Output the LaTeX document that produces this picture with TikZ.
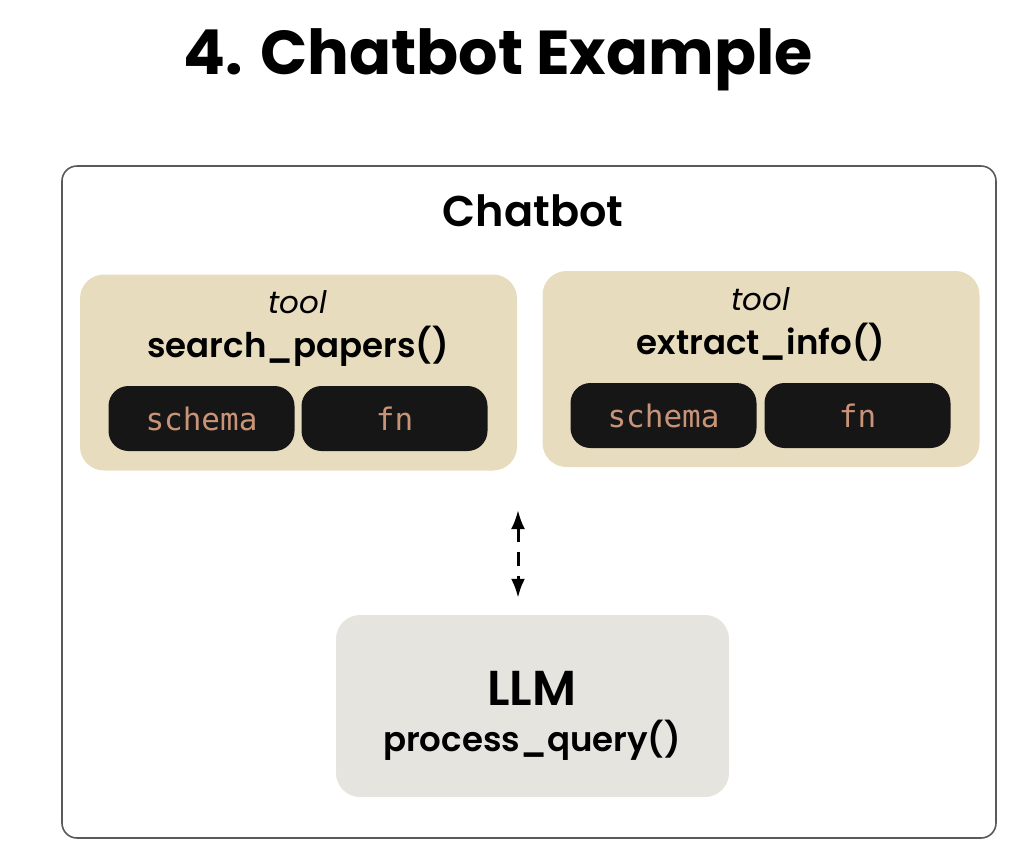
\documentclass[tikz,border=0pt]{standalone}
\usepackage{fontspec}
\setmainfont{Poppins}[BoldFont={Poppins SemiBold}]
\newfontfamily\titlefont{Poppins Bold}
\setmonofont{DejaVu Sans Mono}
\usepackage{tikz}
\usetikzlibrary{arrows.meta, positioning}
\definecolor{ctan}{HTML}{E8DCBE}
\definecolor{cpill}{HTML}{161616}
\definecolor{cpilltext}{HTML}{C99378}
\definecolor{cllm}{HTML}{E6E4DF}
\definecolor{cframe}{HTML}{5A5A5A}

\tikzset{
  toolbox/.style={fill=ctan, rounded corners=24pt, minimum width=437pt, minimum height=196pt, inner sep=0pt},
  pill/.style={fill=cpill, rounded corners=20pt, minimum width=186pt, minimum height=65pt, inner sep=0pt,
    font=\ttfamily\fontsize{31}{36}\selectfont, text=cpilltext},
  toollabel/.style={font=\itshape\fontsize{31}{36}\selectfont},
  toolname/.style={font=\bfseries\fontsize{34}{40}\selectfont},
}

\begin{document}
\begin{tikzpicture}[x=1pt, y=-1pt]
  \useasboundingbox (0,0) rectangle (1012,852);

  %% Title
  \node[font=\titlefont\fontsize{62}{72}\selectfont] (title) at (498,60) {4. Chatbot Example};

  %% Outer frame
  \node[draw=cframe, line width=1.6pt, rounded corners=15pt, minimum width=934pt, minimum height=672pt,
    inner sep=0pt] (frame) at (529,502) {};
  \node[font=\bfseries\fontsize{43}{50}\selectfont] (chatbot) at (533,211) {Chatbot};

  %% ── Tool 1: search_papers ──────────────────────────────────
  \node[toolbox] (toolA) at (298.5,372.5) {};
  \node[toollabel] (toolAlab) at (298,302) {tool};
  \node[toolname] (toolAname) at (298,346) {search\_papers()};
  \node[pill] (schemaA) at (201.5,418.5) {schema};
  \node[pill] (fnA) at (394.5,418.5) {fn};

  %% ── Tool 2: extract_info ───────────────────────────────────
  \node[toolbox] (toolB) at (761,369) {};
  \node[toollabel] (toolBlab) at (761,299) {tool};
  \node[toolname] (toolBname) at (761,342) {extract\_info()};
  \node[pill] (schemaB) at (663.5,415.5) {schema};
  \node[pill] (fnB) at (857.5,415.5) {fn};

  %% ── LLM ────────────────────────────────────────────────────
  \node[fill=cllm, rounded corners=24pt, minimum width=393pt, minimum height=182pt, inner sep=0pt]
    (llm) at (532.5,706) {};
  \node[font=\bfseries\fontsize{49}{56}\selectfont] (llmname) at (532,688) {LLM};
  \node[font=\bfseries\fontsize{34}{40}\selectfont] (llmfn) at (532,740) {process\_query()};

  %% Tools <-> LLM
  \coordinate (toolsbase) at (518,510);
  \draw[{Latex[length=19pt,width=14pt]}-{Latex[length=19pt,width=14pt]}, line width=3pt,
    dash pattern=on 14pt off 10pt] (toolsbase) -- ([yshift=17pt]llm.north -| toolsbase);
\end{tikzpicture}
\end{document}
